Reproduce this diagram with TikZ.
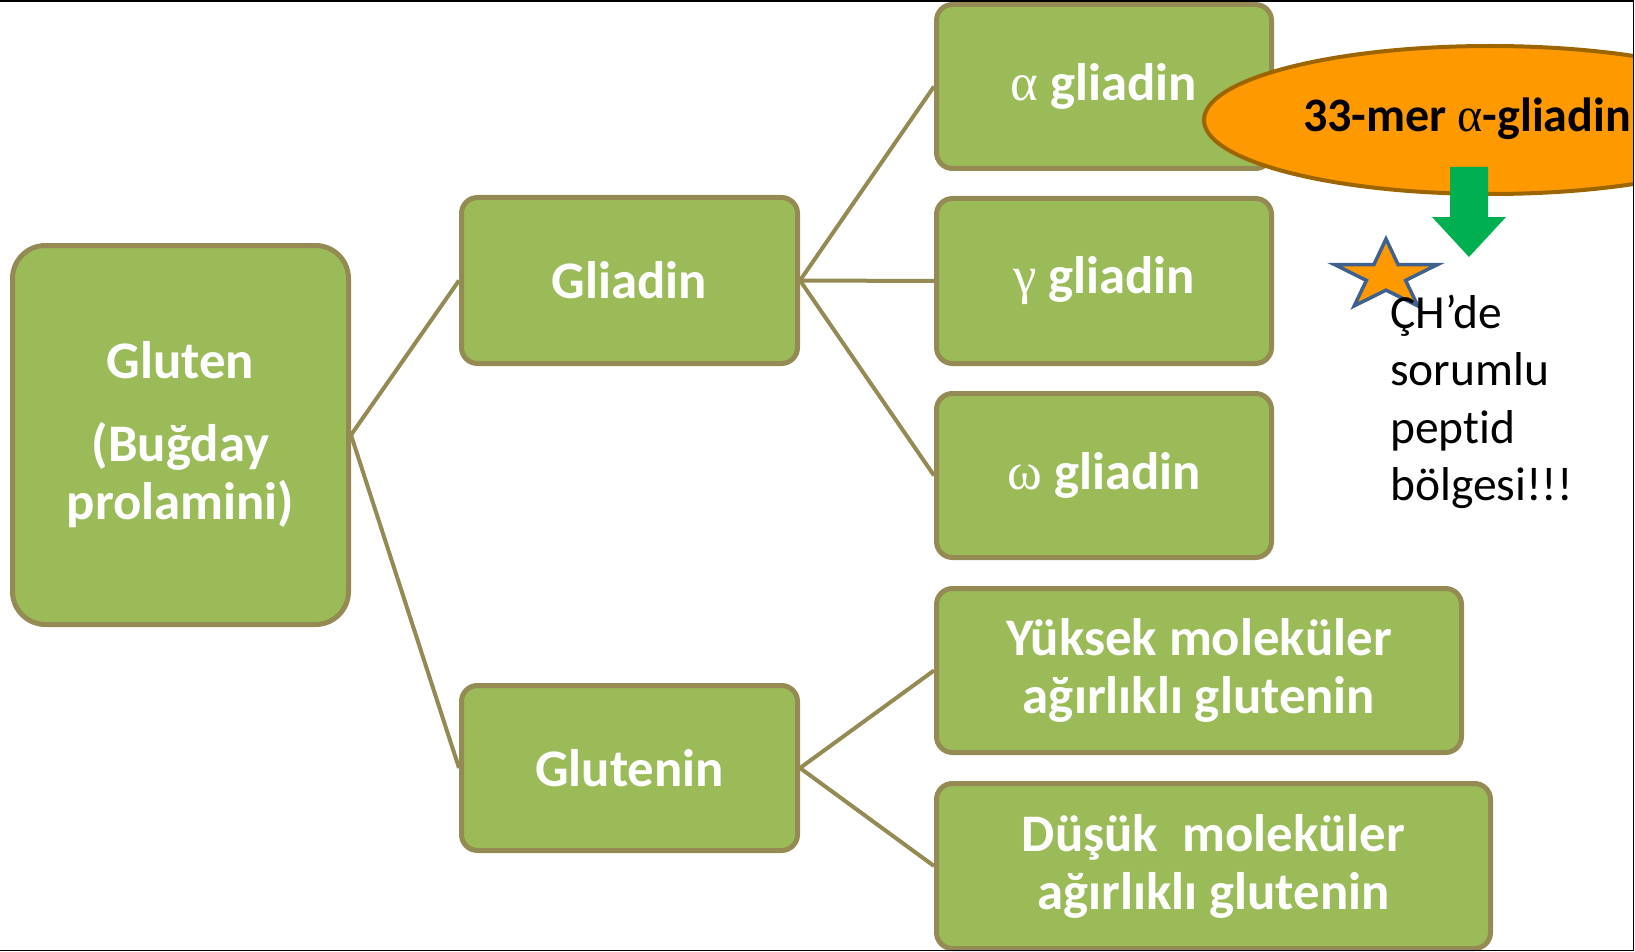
\documentclass[tikz,border=0pt]{standalone}
\usepackage{fontspec}
\setmainfont{Carlito}[Ligatures=NoCommon]
\newfontfamily\grk{Liberation Serif}
\usetikzlibrary{shapes.geometric}
\definecolor{boxgreen}{HTML}{9BBB59}
\definecolor{boxedge}{HTML}{948A54}
\definecolor{peptide}{HTML}{FF9900}
\definecolor{peptideedge}{HTML}{9C6500}
\definecolor{arrowgreen}{HTML}{00B050}
\definecolor{starblue}{HTML}{3F6190}
\newcommand{\gr}[1]{{\grk\mdseries #1}}
\begin{document}
\begin{tikzpicture}[x=1pt,y=-1pt,
  box/.style={draw=boxedge, fill=boxgreen, line width=5pt, rounded corners=16pt,
    text=white, font=\fontsize{52.8}{58}\selectfont\bfseries, align=center, inner sep=0pt},
  link/.style={draw=boxedge, line width=4pt},
  frameline/.style={draw=black, line width=1.6pt}]
\useasboundingbox (0,0) rectangle (1635,952);

% hierarchy boxes
\node[box, rounded corners=33pt, minimum width=336pt, minimum height=379pt] (gluten) at (180.5,435) {Gluten\\[25pt](Buğday\\prolamini)};
\node[box, minimum width=336pt, minimum height=166pt] (gliadin) at (629.5,280.5) {Gliadin};
\node[box, minimum width=336pt, minimum height=165pt] (glutenin) at (629.5,768) {Glutenin};
\node[box, minimum width=335pt, minimum height=164pt] (alpha) at (1104,86.5) {\gr{α} gliadin};
\node[box, minimum width=335pt, minimum height=165pt] (gamma) at (1104,281) {\gr{γ} gliadin};
\node[box, minimum width=335pt, minimum height=164pt] (omega) at (1104,475.5) {\gr{ω} gliadin};
\node[box, minimum width=525pt, minimum height=164pt] (hmw) at (1199,670.5) {Yüksek moleküler\\ağırlıklı glutenin};
\node[box, minimum width=554pt, minimum height=165pt] (lmw) at (1213.5,866) {Düşük~ moleküler\\ağırlıklı glutenin};

% connectors
\draw[link] (gluten.east) -- (gliadin.west);
\draw[link] (gluten.east) -- (glutenin.west);
\draw[link] (gliadin.east) -- (alpha.west);
\draw[link] (gliadin.east) -- (gamma.west);
\draw[link] (gliadin.east) -- (omega.west);
\draw[link] (glutenin.east) -- (hmw.west);
\draw[link] (glutenin.east) -- (lmw.west);

% 33-mer peptide callout, cut off at the right frame
\begin{scope}
  \clip (0,0) rectangle (1633,952);
  \node[ellipse, draw=peptideedge, fill=peptide, line width=4pt,
        minimum width=572pt, minimum height=148pt, inner sep=0pt] (mer) at (1490,120) {};
  \node[anchor=west, inner sep=0pt, font=\fontsize{48}{55}\selectfont\bfseries] (mertext) at (1303,119) {33-mer \gr{α}-gliadin};
\end{scope}

% down arrow
\fill[arrowgreen] (1450,167) -- (1488,167) -- (1488,217) -- (1506,217) -- (1469,257)
  -- (1432,217) -- (1450,217) -- cycle;

% star marker
\filldraw[fill=peptide, draw=starblue, line width=3.5pt, line join=miter]
  (1386,239) -- (1373.9,264.6) -- (1334.6,264.6) -- (1366.4,280.4) -- (1354.2,305.9)
  -- (1386,290.1) -- (1417.8,305.9) -- (1405.6,280.4) -- (1437.4,264.6)
  -- (1398.1,264.6) -- cycle;

% note
\node[anchor=west, align=left, inner sep=0pt, font=\fontsize{47.5}{57.5}\selectfont] (note) at (1390,402)
  {ÇH’de\\sorumlu\\peptid\\bölgesi!!!};

% frame
\draw[frameline] (0,0.8) -- (1633.5,0.8) -- (1633.5,950.5) -- (0,950.5);
\end{tikzpicture}
\end{document}
